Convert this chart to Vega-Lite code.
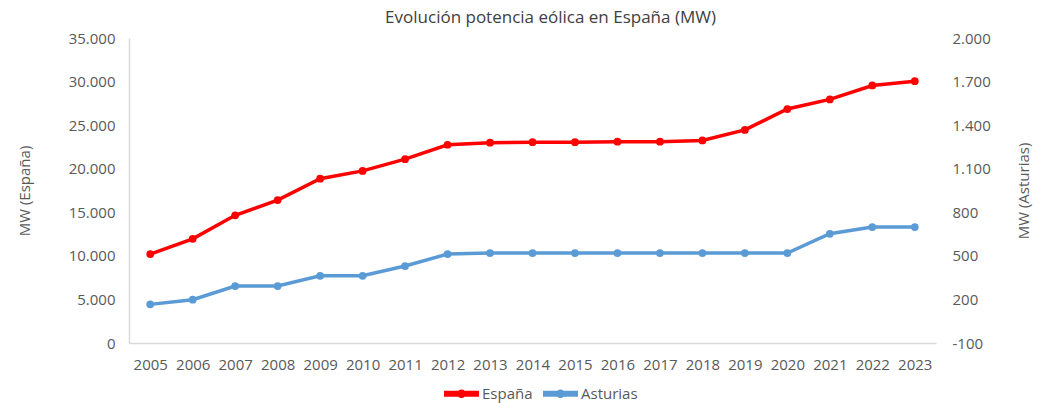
{
  "$schema": "https://vega.github.io/schema/vega-lite/v6.json",
  "autosize": "none",
  "width": 807,
  "height": 305,
  "padding": {"left": 129, "top": 38, "right": 104, "bottom": 60},
  "background": "white",
  "config": {
    "view": {"stroke": null},
    "font": "Open Sans",
    "axis": {"labelFont": "Open Sans", "titleFont": "Open Sans", "labelFontSize": 15, "titleFontSize": 15, "labelColor": "#595959", "titleColor": "#595959", "titleFontWeight": "normal", "grid": false, "ticks": false, "tickSize": 0, "domainColor": "#D9D9D9", "domainWidth": 1.5},
    "legend": {"labelFont": "Open Sans", "labelFontSize": 15, "labelColor": "#595959"}
  },
  "title": {"text": "Evolución potencia eólica en España (MW)", "fontSize": 17, "font": "Open Sans", "fontWeight": "normal", "color": "#404040", "anchor": "middle", "dx": 18, "offset": 4},
  "data": {"values": [
    {"year": "2005", "serie": "España", "mw": 10200},
    {"year": "2006", "serie": "España", "mw": 11950},
    {"year": "2007", "serie": "España", "mw": 14650},
    {"year": "2008", "serie": "España", "mw": 16400},
    {"year": "2009", "serie": "España", "mw": 18850},
    {"year": "2010", "serie": "España", "mw": 19750},
    {"year": "2011", "serie": "España", "mw": 21100},
    {"year": "2012", "serie": "España", "mw": 22750},
    {"year": "2013", "serie": "España", "mw": 22980},
    {"year": "2014", "serie": "España", "mw": 23050},
    {"year": "2015", "serie": "España", "mw": 23050},
    {"year": "2016", "serie": "España", "mw": 23100},
    {"year": "2017", "serie": "España", "mw": 23100},
    {"year": "2018", "serie": "España", "mw": 23250},
    {"year": "2019", "serie": "España", "mw": 24450},
    {"year": "2020", "serie": "España", "mw": 26850},
    {"year": "2021", "serie": "España", "mw": 27950},
    {"year": "2022", "serie": "España", "mw": 29550},
    {"year": "2023", "serie": "España", "mw": 30050},
    {"year": "2005", "serie": "Asturias", "mw": 166},
    {"year": "2006", "serie": "Asturias", "mw": 198},
    {"year": "2007", "serie": "Asturias", "mw": 292},
    {"year": "2008", "serie": "Asturias", "mw": 292},
    {"year": "2009", "serie": "Asturias", "mw": 363},
    {"year": "2010", "serie": "Asturias", "mw": 363},
    {"year": "2011", "serie": "Asturias", "mw": 430},
    {"year": "2012", "serie": "Asturias", "mw": 512},
    {"year": "2013", "serie": "Asturias", "mw": 519},
    {"year": "2014", "serie": "Asturias", "mw": 519},
    {"year": "2015", "serie": "Asturias", "mw": 519},
    {"year": "2016", "serie": "Asturias", "mw": 519},
    {"year": "2017", "serie": "Asturias", "mw": 519},
    {"year": "2018", "serie": "Asturias", "mw": 519},
    {"year": "2019", "serie": "Asturias", "mw": 519},
    {"year": "2020", "serie": "Asturias", "mw": 519},
    {"year": "2021", "serie": "Asturias", "mw": 652},
    {"year": "2022", "serie": "Asturias", "mw": 698},
    {"year": "2023", "serie": "Asturias", "mw": 698}
  ]},
  "encoding": {
    "x": {"field": "year", "type": "ordinal", "title": null, "scale": {"type": "point", "padding": 0.5}, "axis": {"labelAngle": 0, "labelPadding": 14, "domainColor": "#D9D9D9"}},
    "color": {"field": "serie", "type": "nominal", "scale": {"domain": ["España", "Asturias"], "range": ["#FF0000", "#5B9BD5"]},
      "legend": {"title": null, "orient": "none", "legendX": 315, "legendY": 338, "direction": "horizontal", "symbolType": "M -1 -0.17 L 1 -0.17 L 1 0.17 L -1 0.17 Z M -0.25 0 A 0.25 0.25 0 1 1 0.25 0 A 0.25 0.25 0 1 1 -0.25 0 Z", "symbolSize": 1225, "symbolStrokeWidth": 0, "columnPadding": 10, "labelOffset": 3,
        "encode": {"symbols": {"update": {"fill": {"field": "value", "scale": "color"}, "stroke": {"value": "transparent"}}}}}}
  },
  "layer": [
    {
      "transform": [{"filter": "datum.serie === 'España'"}],
      "encoding": {"y": {"field": "mw", "type": "quantitative", "title": "MW (España)", "scale": {"domain": [0, 35000], "nice": false, "zero": false},
        "axis": {"orient": "left", "values": [0, 5000, 10000, 15000, 20000, 25000, 30000, 35000], "labelPadding": 14, "titlePadding": 36, "labelExpr": "replace(replace(format(datum.value, ','), ',', '.'), '−', '-')"}}},
      "layer": [
        {"mark": {"type": "line", "strokeWidth": 3.5}},
        {"mark": {"type": "point", "filled": true, "size": 60, "opacity": 1}}
      ]
    },
    {
      "transform": [{"filter": "datum.serie === 'Asturias'"}],
      "encoding": {"y": {"field": "mw", "type": "quantitative", "title": "MW (Asturias)", "scale": {"domain": [-100, 2000], "nice": false, "zero": false},
        "axis": {"orient": "right", "domain": false, "values": [-100, 200, 500, 800, 1100, 1400, 1700, 2000], "labelPadding": 16, "titlePadding": 41, "titleAngle": 270, "labelExpr": "replace(replace(format(datum.value, ','), ',', '.'), '−', '-')"}}},
      "layer": [
        {"mark": {"type": "line", "strokeWidth": 3.5}},
        {"mark": {"type": "point", "filled": true, "size": 60, "opacity": 1}}
      ]
    }
  ],
  "resolve": {"scale": {"y": "independent"}}
}
